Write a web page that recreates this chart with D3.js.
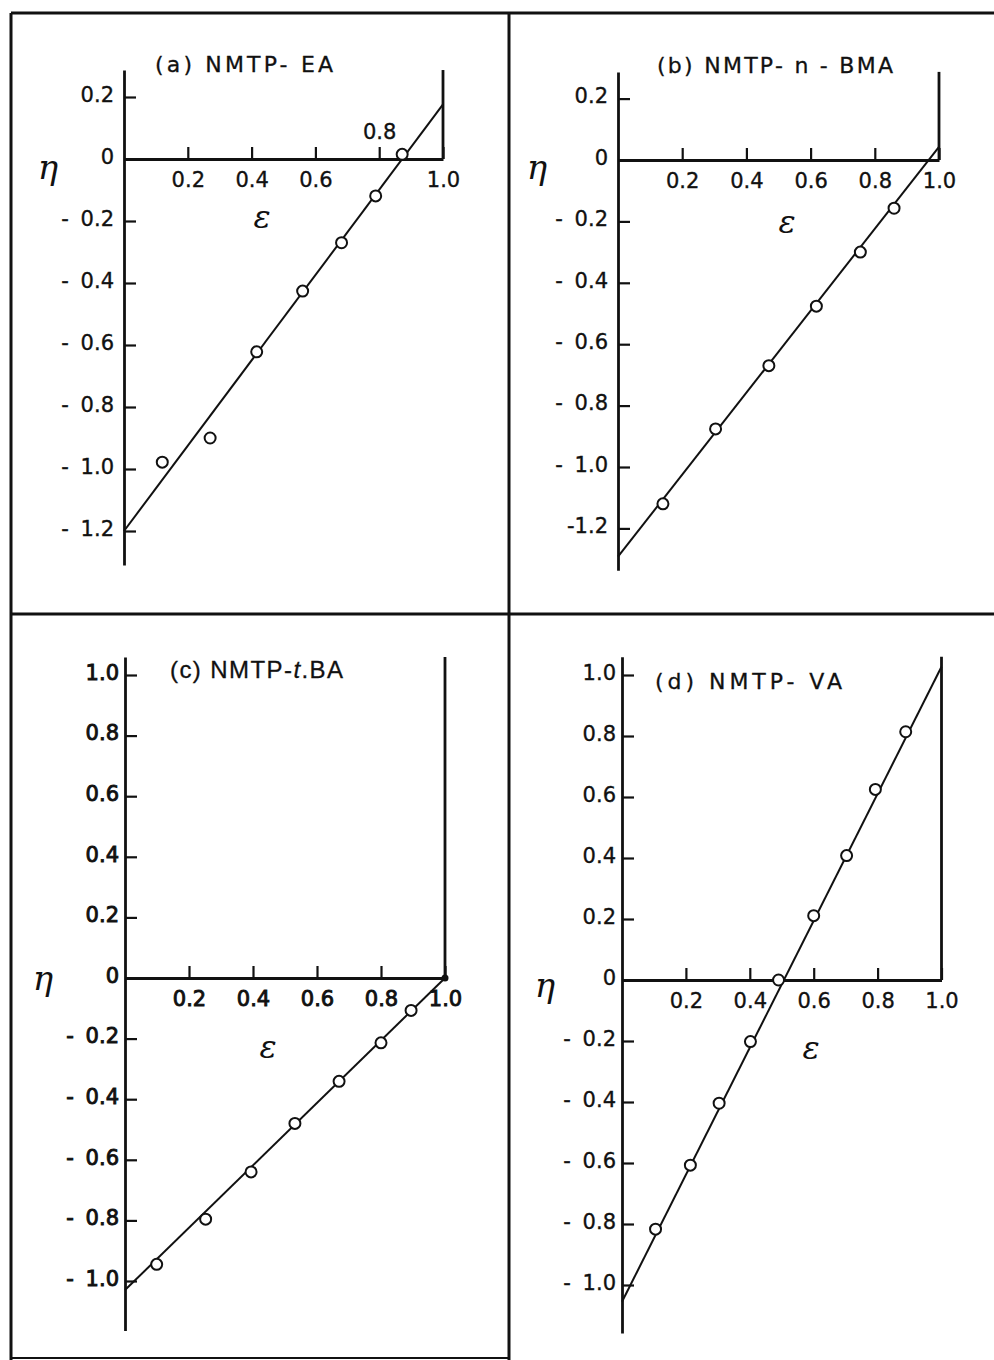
<!DOCTYPE html>
<html lang="en">
<head>
  <meta charset="UTF-8">
  <script src="https://cdn.jsdelivr.net/npm/d3@7/dist/d3.min.js"></script>
  <title>NMTP eta vs epsilon</title>
  <style>
    body { margin: 0; background: #fff; }
  </style>
</head>
<body>
  <script>
    // (a) NMTP-EA
    const epsA = [0.12, 0.27, 0.416, 0.56, 0.682, 0.789, 0.872]
    const etaA = [-0.978, -0.90, -0.622, -0.426, -0.27, -0.119, 0.015]
    const fitA = [-1.2, 0.176]      // eta of the fitted line at eps = 0 and eps = 1

    // (b) NMTP-n-BMA
    const epsB = [0.14, 0.304, 0.47, 0.618, 0.755, 0.86]
    const etaB = [-1.12, -0.876, -0.67, -0.476, -0.30, -0.157]
    const fitB = [-1.292, 0.043]

    // (c) NMTP-t.BA
    const epsC = [0.099, 0.252, 0.394, 0.531, 0.669, 0.80, 0.894]
    const etaC = [-0.945, -0.796, -0.64, -0.48, -0.341, -0.214, -0.107]
    const fitC = [-1.03, 0]

    // (d) NMTP-VA
    const epsD = [0.105, 0.214, 0.304, 0.402, 0.49, 0.60, 0.703, 0.793, 0.888]
    const etaD = [-0.817, -0.607, -0.404, -0.202, 0, 0.211, 0.408, 0.625, 0.814]
    const fitD = [-1.055, 1.027]

    const fitEps = [0, 1]
    const xTicks = [0.2, 0.4, 0.6, 0.8, 1.0]
    const xTickLabels = ['0.2', '0.4', '0.6', '0.8', '1.0']
    const yTicksTop = [0.2, 0, -0.2, -0.4, -0.6, -0.8, -1.0, -1.2]
    const yLabelsA = ['0.2', '0', '- 0.2', '- 0.4', '- 0.6', '- 0.8', '- 1.0', '- 1.2']
    const yLabelsB = ['0.2', '0', '- 0.2', '- 0.4', '- 0.6', '- 0.8', '- 1.0', '-1.2']
    const yTicksBottom = [1.0, 0.8, 0.6, 0.4, 0.2, 0, -0.2, -0.4, -0.6, -0.8, -1.0]
    const yLabelsBottom = ['1.0', '0.8', '0.6', '0.4', '0.2', '0', '- 0.2', '- 0.4', '- 0.6', '- 0.8', '- 1.0']

    // title pieces: [text, italic]
    const titleA = [['(a) NMTP- EA', false]]
    const titleB = [['(b) NMTP- n - BMA', false]]
    const titleC = [['(c) NMTP-', false], ['t', true], ['.BA', false]]
    const titleD = [['(d) NMTP- VA', false]]

    const W = 994, H = 1360
    const ink = '#111'

    const panels = [
      { eps: epsA, eta: etaA, fit: fitA, title: titleA, yTicks: yTicksTop, yLabels: yLabelsA,
        x0: 124, xLen: 319, y0: 159, yUnit: 310, yTop: 0.287, yBot: -1.31, pad: 10,
        tx: 155, ty: 72, tw: 178, tFont: 'DejaVu Sans', tSize: 22,
        etaPos: [48, 167], epsPos: [262, 217], lblBold: false },
      { eps: epsB, eta: etaB, fit: fitB, title: titleB, yTicks: yTicksTop, yLabels: yLabelsB,
        x0: 618, xLen: 321, y0: 160, yUnit: 307, yTop: 0.287, yBot: -1.336, pad: 10,
        tx: 657, ty: 73, tw: 236, tFont: 'DejaVu Sans', tSize: 22,
        etaPos: [537, 167], epsPos: [787, 222], lblBold: false },
      { eps: epsC, eta: etaC, fit: fitC, title: titleC, yTicks: yTicksBottom, yLabels: yLabelsBottom,
        x0: 125, xLen: 320, y0: 978, yUnit: 303, yTop: 1.059, yBot: -1.163, pad: 6,
        tx: 170, ty: 678, tw: 173, tFont: 'Liberation Sans', tSize: 24,
        etaPos: [43, 978], epsPos: [268, 1047], lblBold: true, endDot: true },
      { eps: epsD, eta: etaD, fit: fitD, title: titleD, yTicks: yTicksBottom, yLabels: yLabelsBottom,
        x0: 622, xLen: 319.5, y0: 980, yUnit: 305, yTop: 1.06, yBot: -1.157, pad: 6,
        tx: 655, ty: 689, tw: 187, tFont: 'DejaVu Sans', tSize: 22,
        etaPos: [545, 985], epsPos: [811, 1048], lblBold: false }
    ]

    const svg = d3.select('body').append('svg')
        .attr('width', W)
        .attr('height', H)
        .style('display', 'block')

    svg.append('rect').attr('width', W).attr('height', H).attr('fill', '#fff')

    // frame round the four panels
    const frame = svg.append('g')
        .attr('stroke', ink)
        .attr('stroke-width', 3)
        .attr('fill', 'none')
    frame.append('line').attr('x1', 11).attr('x2', W).attr('y1', 13).attr('y2', 13)
    frame.append('line').attr('x1', 11).attr('x2', 11).attr('y1', 13).attr('y2', H)
    frame.append('line').attr('x1', 509).attr('x2', 509).attr('y1', 13).attr('y2', H)
    frame.append('line').attr('x1', 11).attr('x2', W).attr('y1', 614).attr('y2', 614)
    frame.append('line').attr('x1', 11).attr('x2', 509).attr('y1', 1358).attr('y2', 1358)
        .attr('stroke-width', 2)

    panels.forEach((p, k) => {
      const g = svg.append('g')

      const x = d3.scaleLinear()
          .domain([0, 1])
          .range([p.x0, p.x0 + p.xLen])
      const y = d3.scaleLinear()
          .domain([p.yBot, p.yTop])
          .range([p.y0 - p.yBot * p.yUnit, p.y0 - p.yTop * p.yUnit])

      // y axis, ticks pointing inwards
      const yAxis = g.append('g')
          .attr('transform', `translate(${x(0)},0)`)
          .call(d3.axisLeft(y)
            .tickValues(p.yTicks)
            .tickFormat((d, i) => p.yLabels[i])
            .tickSizeInner(-12)
            .tickSizeOuter(0)
            .tickPadding(p.pad))

      // x axis at eta = 0, ticks pointing up
      const xAxis = g.append('g')
          .attr('transform', `translate(0,${y(0)})`)
          .call(d3.axisBottom(x)
            .tickValues(xTicks)
            .tickFormat((d, i) => xTickLabels[i])
            .tickSizeInner(-12)
            .tickSizeOuter(0)
            .tickPadding(13))

      ;[xAxis, yAxis].forEach(a => {
        a.attr('font-family', null).attr('font-size', null)
        a.select('.domain').attr('stroke', ink).attr('stroke-width', 2.8)
        a.selectAll('.tick line').attr('stroke', ink).attr('stroke-width', 2.2)
        a.selectAll('.tick text')
            .attr('fill', ink)
            .style('font-family', '"DejaVu Sans", sans-serif')
            .style('font-size', '21px')
            .style('word-spacing', '5px')
            .attr('stroke', ink)
            .attr('stroke-width', p.lblBold ? 0.9 : 0.35)
      })
      yAxis.selectAll('.tick text').attr('dy', '0.2em')

      // in (a) the 0.8 label sits above the axis, clear of the line
      if (k === 0) {
        xAxis.selectAll('.tick text')
            .filter(d => d === 0.8)
            .attr('y', -35)
      }

      // vertical line at eps = 1
      g.append('line')
          .attr('x1', x(1)).attr('x2', x(1))
          .attr('y1', y(p.yTop)).attr('y2', y(0))
          .attr('stroke', ink)
          .attr('stroke-width', 2.8)

      // fitted straight line
      const line = d3.line()
          .x(d => x(d[0]))
          .y(d => y(d[1]))
      g.append('path')
          .datum(fitEps.map((e, i) => [e, p.fit[i]]))
          .attr('fill', 'none')
          .attr('stroke', ink)
          .attr('stroke-width', 2)
          .attr('d', line)

      if (p.endDot) {
        g.append('circle')
            .attr('cx', x(1)).attr('cy', y(p.fit[1]))
            .attr('r', 3.5)
            .attr('fill', ink)
      }

      // measured points
      g.selectAll('circle.pt')
        .data(p.eps.map((e, i) => [e, p.eta[i]]))
        .join('circle')
          .attr('class', 'pt')
          .attr('cx', d => x(d[0]))
          .attr('cy', d => y(d[1]))
          .attr('r', 5.5)
          .attr('fill', '#fff')
          .attr('stroke', ink)
          .attr('stroke-width', 2)

      // panel title
      const t = g.append('text')
          .attr('x', p.tx)
          .attr('y', p.ty)
          .attr('textLength', p.tw)
          .attr('lengthAdjust', 'spacing')
          .attr('fill', ink)
          .attr('stroke', ink)
          .attr('stroke-width', 0.3)
          .style('font-family', `"${p.tFont}", sans-serif`)
          .style('font-size', p.tSize + 'px')
          .style('white-space', 'pre')
      p.title.forEach(([s, it]) => {
        t.append('tspan')
            .text(s)
            .style('font-style', it ? 'italic' : 'normal')
      })

      // axis symbols
      g.append('text')
          .attr('x', p.etaPos[0]).attr('y', p.etaPos[1])
          .attr('text-anchor', 'middle')
          .attr('dominant-baseline', 'central')
          .attr('fill', ink)
          .style('font-family', '"DejaVu Serif", serif')
          .style('font-style', 'italic')
          .style('font-size', '34px')
          .text('η')
      g.append('text')
          .attr('x', p.epsPos[0]).attr('y', p.epsPos[1])
          .attr('text-anchor', 'middle')
          .attr('dominant-baseline', 'central')
          .attr('fill', ink)
          .style('font-family', '"DejaVu Serif", serif')
          .style('font-style', 'italic')
          .style('font-size', '32px')
          .text('ε')
    })
  </script>
</body>
</html>
